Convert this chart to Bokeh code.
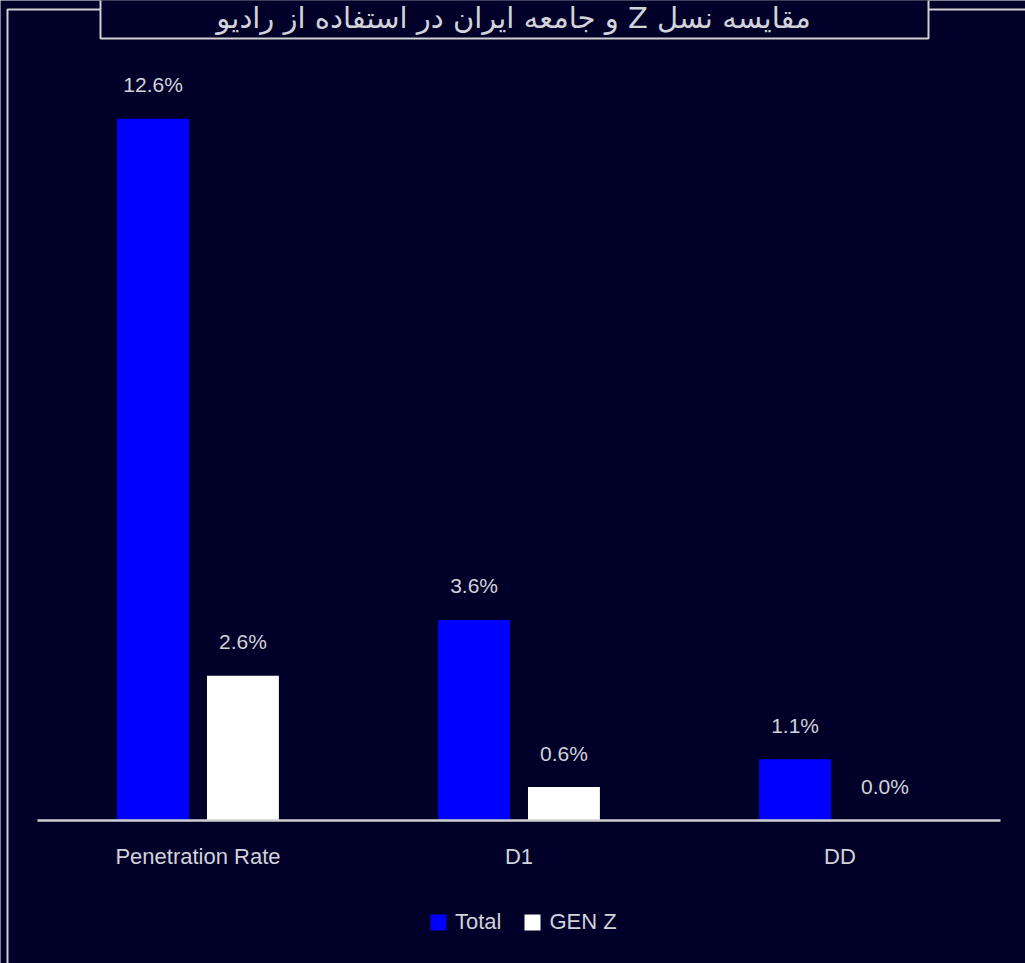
from bokeh.plotting import figure
from bokeh.models import Range1d, Legend, LegendItem
from bokeh.core.properties import value
from bokeh.embed import file_html
from bokeh.resources import INLINE
import numpy as np

# --- data -------------------------------------------------------------
categories = ["Penetration Rate", "D1", "DD"]
series_names = ["Total", "GEN Z"]
total = [12.6, 3.6, 1.1]
gen_z = [2.6, 0.6, 0.0]
title_text = "مقایسه نسل Z و جامعه ایران در استفاده از رادیو"

# --- styling ------------------------------------------------------------
W, H = 1025, 963
BG = "#000028"
BLUE = "#0000ff"
WHITE = "#ffffff"
TEXT = "#d2d2da"
LINE = "#d0d0d0"
FONT = "Liberation Sans"

# pixel layout of the plotting band
left_px, right_px = 37, 1000
base_px = 820
px_per_unit = 55.7
band = (right_px - left_px) / len(categories)

x0 = -0.5 - left_px / band
x1 = len(categories) - 0.5 + (W - right_px) / band
y0 = -(H - base_px) / px_per_unit
y1 = base_px / px_per_unit

p = figure(
    width=W, height=H,
    x_range=Range1d(x0, x1), y_range=Range1d(y0, y1),
    x_axis_location=None, y_axis_location=None,
    output_backend="svg", toolbar_location=None,
    min_border=0, background_fill_color=BG, border_fill_color=BG,
    outline_line_color=None,
)
p.grid.visible = False

# pixel-space ranges for the decorative frame and title box
p.extra_x_ranges = {"px": Range1d(0, W)}
p.extra_y_ranges = {"px": Range1d(H, 0)}

idx = np.arange(len(categories))
offset = 0.14
bar_w = 0.224

r_total = p.vbar(x=idx - offset, top=total, width=bar_w, bottom=0,
                 fill_color=BLUE, line_color=None)
r_genz = p.vbar(x=idx + offset, top=gen_z, width=bar_w, bottom=0,
                fill_color=WHITE, line_color=None)

# value labels above the bars
for xs, vals in ((idx - offset, total), (idx + offset, gen_z)):
    p.text(x=xs, y=vals, text=[f"{v:.1f}%" for v in vals],
           y_offset=-34, text_align="center", text_baseline="middle",
           text_font=value(FONT), text_font_size="21px", text_color=TEXT)

# baseline
p.line(x=[-0.5, len(categories) - 0.5], y=[0, 0], line_color=LINE, line_width=2.5)

# category labels
p.text(x=idx, y=[0] * len(categories), text=categories, y_offset=36,
       text_align="center", text_baseline="middle",
       text_font=value(FONT), text_font_size="22px", text_color=TEXT)

# outer frame and title box
kw = dict(x_range_name="px", y_range_name="px", line_color=LINE, line_width=2)
p.line(x=[7, 7, 100], y=[H + 5, 9, 9], **kw)
p.line(x=[928, W + 5], y=[9, 9], **kw)
p.quad(left=100, right=928, top=-10, bottom=38, fill_color=BG,
       x_range_name="px", y_range_name="px", line_color=LINE, line_width=2)
# right-to-left embedding so the Persian title keeps its word order
p.text(x=[513], y=[17], text=["\u202b" + title_text + "\u202c"],
       x_range_name="px", y_range_name="px",
       text_align="center", text_baseline="alphabetic",
       text_font=value("DejaVu Sans"), text_font_size="29px", text_color=TEXT)

legend = Legend(
    items=[LegendItem(label=series_names[0], renderers=[r_total]),
           LegendItem(label=series_names[1], renderers=[r_genz])],
    orientation="horizontal", location=(428, 28),
    padding=0, margin=0, spacing=21, label_standoff=7,
    glyph_width=20, glyph_height=20,
    border_line_color=None, background_fill_alpha=0,
    label_text_font=FONT, label_text_font_size="22px", label_text_color=TEXT,
    label_text_baseline="bottom",
)
p.add_layout(legend)

open("out.html", "w").write(file_html(p, INLINE))
